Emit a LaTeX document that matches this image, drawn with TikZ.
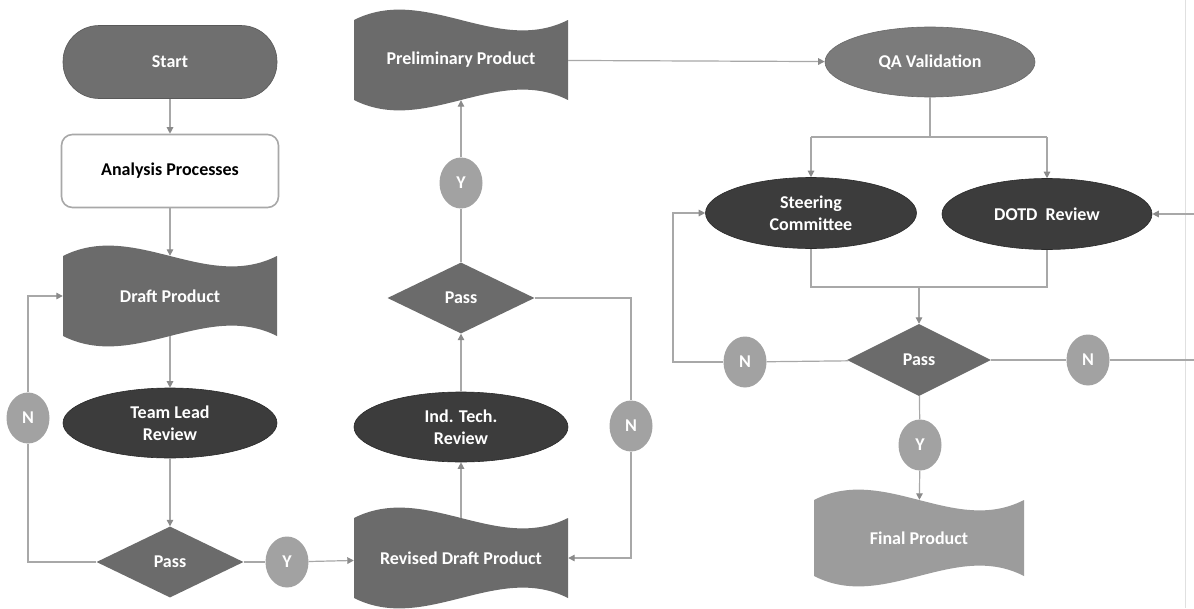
\documentclass[tikz,border=0pt]{standalone}
\usepackage{fontspec}
\setmainfont{Carlito}
\usetikzlibrary{shapes.geometric,arrows.meta}
\definecolor{startc}{HTML}{6F6F6F}
\definecolor{darkc}{HTML}{3C3C3C}
\definecolor{midc}{HTML}{6B6B6B}
\definecolor{qac}{HTML}{7B7B7B}
\definecolor{lightc}{HTML}{A2A2A2}
\definecolor{finalc}{HTML}{9C9C9C}
\definecolor{linec}{HTML}{A8A8A8}
\definecolor{arrowc}{HTML}{8A8A8A}
\newcommand\wavedraw[5]{%
  \pgfmathsetmacro\wxl{#1-#3/2}\pgfmathsetmacro\wxr{#1+#3/2}%
  \pgfmathsetmacro\wyt{#2-#4/2}\pgfmathsetmacro\wyb{#2+#4/2}%
  \pgfmathsetmacro\wxa{#1-#3/6}\pgfmathsetmacro\wxb{#1+#3/6}%
  \fill[#5] (\wxl,\wyt) .. controls (\wxa,\wyt-36) and (\wxb,\wyt+36) .. (\wxr,\wyt)
    -- (\wxr,\wyb) .. controls (\wxb,\wyb-36) and (\wxa,\wyb+36) .. (\wxl,\wyb) -- cycle;}
\tikzset{
  txt/.style={font=\fontsize{18}{22.5}\selectfont\bfseries, text=white, align=center, inner sep=0pt},
  termbox/.style={txt, rectangle, rounded corners=36pt, fill=startc, draw=startc!80!black, line width=0.6pt, minimum width=214pt, minimum height=73pt},
  procbox/.style={txt, text=black, rectangle, rounded corners=11pt, fill=white, draw=linec, line width=1.6pt, minimum width=217pt, minimum height=73pt},
  wavetext/.style={txt, rectangle, minimum width=214pt, minimum height=80pt},
  darkell/.style={txt, ellipse, fill=darkc, draw=darkc!70!black, line width=0.6pt, minimum width=214pt, minimum height=70pt},
  qaell/.style={txt, ellipse, fill=qac, draw=qac!85!black, line width=0.6pt, minimum width=210pt, minimum height=70pt},
  passdia/.style={txt, diamond, fill=midc, minimum width=147pt, minimum height=71pt},
  yn/.style={txt, ellipse, fill=lightc, minimum width=43pt, minimum height=51pt},
  conn/.style={draw=linec, line width=1.2pt},
  arr/.style={conn, -{Triangle[width=6.5pt,length=6.5pt,color=arrowc]}}
}
\begin{document}
\begin{tikzpicture}[x=1pt,y=-1pt]
\useasboundingbox (0,0) rectangle (1194,608);
\fill[white] (0,0) rectangle (1194,608);
\draw[black!12, line width=0.8pt] (1185,0) -- (1185,608);
% wave shapes
\wavedraw{170}{296}{214}{80}{midc}
\wavedraw{461}{558}{214}{80}{midc}
\wavedraw{461}{60}{214}{80}{midc}
\wavedraw{919}{538}{210}{76}{finalc}
% nodes
\node[termbox] (start) at (170,62) {Start};
\node[procbox] (analysis) at (170,171) {Analysis Processes};
\node[wavetext] (draft) at (170,296) {Draft Product};
\node[darkell] (tlr) at (170,423) {Team Lead\\Review};
\node[passdia] (pass1) at (170,562) {Pass};
\node[yn] (y1) at (287,562) {Y};
\node[yn] (n1) at (28,418) {N};
\node[wavetext] (revised) at (461,558) {Revised Draft Product};
\node[darkell] (itr) at (461,427) {Ind. Tech.\\Review};
\node[passdia] (pass2) at (461,298) {Pass};
\node[yn] (y2) at (461,183) {Y};
\node[yn] (n2) at (631,426) {N};
\node[wavetext] (prelim) at (461,60) {Preliminary Product};
\node[qaell] (qa) at (930,62) {QA Validation};
\node[darkell, minimum width=211pt, minimum height=71pt] (steer) at (811,213) {Steering\\Committee};
\node[darkell, minimum width=210pt, minimum height=71pt] (dotd) at (1047,214) {DOTD\ \ Review};
\node[passdia, minimum width=144pt, minimum height=72pt] (pass3) at (919,360) {Pass};
\node[yn] (n3) at (745,362) {N};
\node[yn] (n4) at (1088,360) {N};
\node[yn] (y3) at (920,445) {Y};
\node[wavetext, minimum width=210pt, minimum height=76pt] (final) at (919,538) {Final Product};
% helper coordinates
\coordinate (qsplit) at (930,137);
\coordinate (sl) at (811,137);
\coordinate (sr) at (1047,137);
\coordinate (ml) at (811,287);
\coordinate (mr) at (1047,287);
\coordinate (mm) at (919,287);
\coordinate (redge) at (1194,360);
\coordinate (redge2) at (1194,214);
% connectors
\draw[arr] (start) -- (analysis);
\draw[arr] (analysis) -- (draft);
\draw[arr] (draft) -- (tlr);
\draw[arr] (tlr) -- (pass1);
\draw[conn] (pass1) -- (y1);
\draw[arr] (y1) -- (revised);
\draw[conn] (pass1.west) -| (n1.south);
\draw[arr] (n1.north) |- (draft.west);
\draw[arr] (revised) -- (itr);
\draw[arr] (itr) -- (pass2);
\draw[conn] (pass2) -- (y2);
\draw[arr] (y2) -- (prelim);
\draw[conn] (pass2.east) -| (n2.north);
\draw[arr] (n2.south) |- (revised.east);
\draw[arr] (prelim) -- (qa);
\draw[conn] (qa) -- (qsplit);
\draw[conn] (sl) -- (sr);
\draw[arr] (sl) -- (steer);
\draw[arr] (sr) -- (dotd);
\draw[conn] (steer.south) -- (ml) -- (mr) -- (dotd.south);
\draw[arr] (mm) -- (pass3);
\draw[conn] (pass3) -- (n3);
\draw[arr] (n3.west) -| (673,300) |- (steer.west);
\draw[conn] (pass3) -- (n4);
\draw[conn] (n4) -- (redge);
\draw[arr] (redge2) -- (dotd.east);
\draw[conn] (pass3) -- (y3);
\draw[arr] (y3) -- (final);
\end{tikzpicture}
\end{document}
